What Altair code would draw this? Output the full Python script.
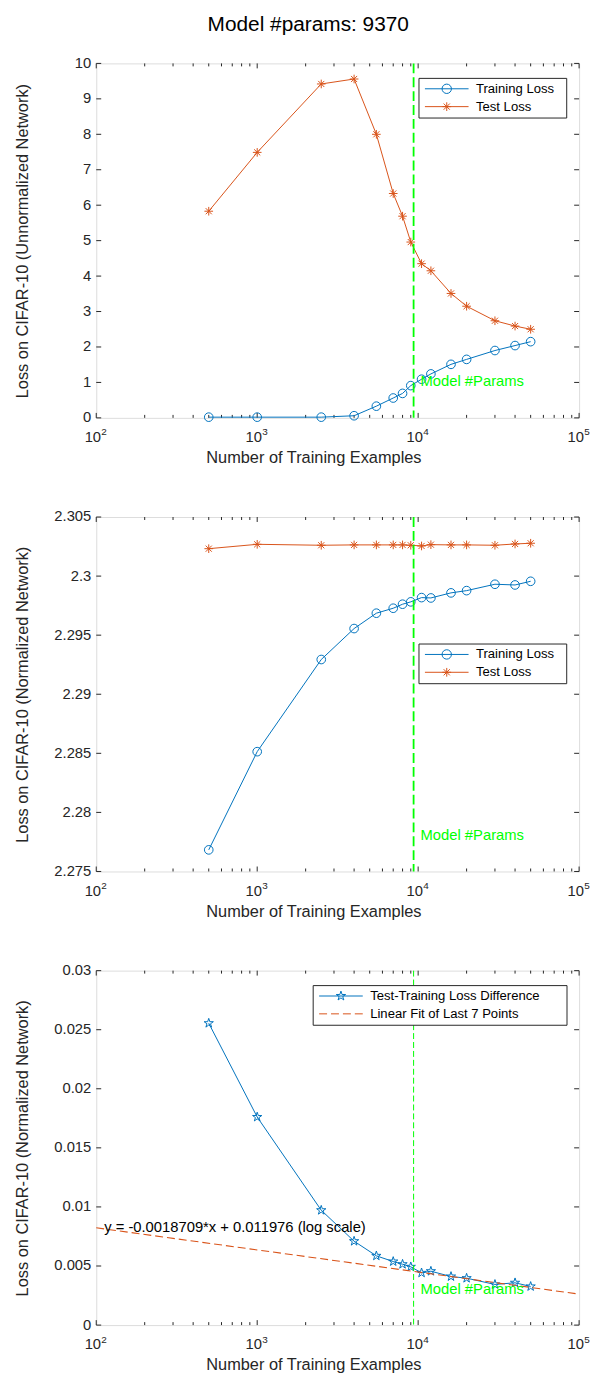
import math
import altair as alt
import pandas as pd

# ---------------- data ----------------
TITLE = "Model #params: 9370"
MODEL_PARAMS = 9370
MODEL_LABEL = "Model #Params"
X_LABEL = "Number of Training Examples"

N_EXAMPLES = [500, 1000, 2500, 4000, 5500, 7000, 8000, 9000, 10500, 12000, 16000, 20000, 30000, 40000, 50000]

UNNORM_TRAIN = [0.02, 0.02, 0.02, 0.06, 0.33, 0.56, 0.69, 0.91, 1.09, 1.24, 1.51, 1.65, 1.90, 2.04, 2.15]
UNNORM_TEST = [5.83, 7.49, 9.42, 9.56, 8.00, 6.33, 5.69, 4.96, 4.35, 4.15, 3.51, 3.15, 2.74, 2.59, 2.50]

NORM_TRAIN = [2.27683, 2.28514, 2.29294, 2.29556, 2.29686, 2.29728, 2.29762, 2.29782,
              2.29818, 2.29815, 2.29858, 2.29877, 2.29931, 2.29925, 2.29956]
NORM_TEST = [2.30232, 2.30269, 2.30261, 2.30264, 2.30264, 2.30264, 2.30264, 2.30261,
             2.30255, 2.30266, 2.30264, 2.30264, 2.30261, 2.30272, 2.30278]

DIFF = [0.02555, 0.01761, 0.00972, 0.00710, 0.00586, 0.00538, 0.00515, 0.00493,
        0.00442, 0.00456, 0.00411, 0.00397, 0.00344, 0.00358, 0.00327]

FIT_SLOPE = -0.0018709
FIT_INTERCEPT = 0.011976
FIT_X = [100, 100000]
EQ_TEXT = "y = -0.0018709*x + 0.011976 (log scale)"

SERIES_TOP = ["Training Loss", "Test Loss"]
SERIES_BOT = ["Test-Training Loss Difference", "Linear Fit of Last 7 Points"]

Y_LABELS = ["Loss on CIFAR-10 (Unnormalized Network)",
            "Loss on CIFAR-10 (Normalized Network)",
            "Loss on CIFAR-10 (Normalized Network)"]
Y_DOMAINS = [[0, 10], [2.275, 2.305], [0, 0.03]]
Y_TICKS = [[0, 1, 2, 3, 4, 5, 6, 7, 8, 9, 10],
           [2.275, 2.28, 2.285, 2.29, 2.295, 2.3, 2.305],
           [0, 0.005, 0.01, 0.015, 0.02, 0.025, 0.03]]
MODEL_LABEL_Y = [1.0, 2.278, 0.003]

X_DOMAIN = [100, 100000]
X_MAJOR = [100, 1000, 10000, 100000]
X_EXPONENTS = ["2", "3", "4", "5"]
X_MINOR = [m * 10 ** e for e in (2, 3, 4) for m in range(2, 10)]

# ---------------- style ----------------
FONT = "Liberation Sans"
AX = "#262626"
BLUE = "#0072BD"
ORANGE = "#D95319"
GREEN = "#00FF00"
W, H = 487, 357.5
TICK_MAJOR, TICK_MINOR = 5, 3
TICK_FS, LABEL_FS, LEGEND_FS, TITLE_FS = 14.9, 16.5, 13.2, 21


def spokes(a):
    d = 0.7071 * a
    return (f"M{-a},0L{a},0M0,{-a}L0,{a}"
            f"M{-d},{-d}L{d},{d}M{-d},{d}L{d},{-d}")


def star(r_out):
    r_in = 0.382 * r_out
    pts = []
    for k in range(10):
        ang = math.radians(-90 + 36 * k)
        r = r_out if k % 2 == 0 else r_in
        pts.append((r * math.cos(ang), r * math.sin(ang)))
    return "M" + "L".join(f"{x:.4f},{y:.4f}" for x, y in pts) + "Z"


def circle(r):
    return f"M{r},0A{r},{r} 0 1 1 {-r},0A{r},{r} 0 1 1 {r},0"


LINE = "M-1,0L1,0"
ASTERISK = spokes(1)
STAR = star(1)
LEG_CIRCLE = LINE + circle(0.215)
LEG_AST = LINE + spokes(0.2)
LEG_STAR = LINE + star(0.225)
LEG_DASH = "M-1,0L-0.636,0M-0.455,0L-0.091,0M0.091,0L0.455,0M0.636,0L1,0"

X_AXIS = alt.Axis(labels=False, ticks=False, tickSize=0, domain=False, grid=False,
                  title=X_LABEL, titleFont=FONT, titleFontSize=LABEL_FS,
                  titleFontWeight="normal", titleColor=AX, titlePadding=32,
                  titleX=219, titleAlign="center")


def y_axis(i):
    return alt.Axis(values=Y_TICKS[i], format="~r", ticks=False, tickSize=0, domain=False,
                    grid=False, labelPadding=5.5, labelFont=FONT, labelFontSize=TICK_FS,
                    labelColor=AX, labelOverlap=False, labelBound=False, labelFlush=False,
                    title=Y_LABELS[i], titleFont=FONT, titleFontSize=LABEL_FS,
                    titleFontWeight="normal", titleColor=AX, titleX=-74, titleY=H / 2,
                    titleAngle=270, titleAlign="center", titleBaseline="middle")


def X():
    return alt.X("x:Q", scale=alt.Scale(type="log", domain=X_DOMAIN, nice=False), axis=X_AXIS)


def Y(i):
    return alt.Y("y:Q", scale=alt.Scale(domain=Y_DOMAINS[i], nice=False, zero=False),
                 axis=y_axis(i))


def frame_layers(i):
    xmaj = pd.DataFrame({"x": X_MAJOR, "e": X_EXPONENTS})
    xmin = pd.DataFrame({"x": X_MINOR})
    yt = pd.DataFrame({"y": Y_TICKS[i]})
    layers = []
    for df, L in ((xmaj, TICK_MAJOR), (xmin, TICK_MINOR)):
        layers.append(alt.Chart(df).mark_rule(color=AX, strokeWidth=1).encode(
            x=X(), y=alt.value(H), y2=alt.value(H - L)))
        layers.append(alt.Chart(df).mark_rule(color=AX, strokeWidth=1).encode(
            x=X(), y=alt.value(0), y2=alt.value(L)))
    layers.append(alt.Chart(yt).mark_rule(color=AX, strokeWidth=1).encode(
        y=Y(i), x=alt.value(0), x2=alt.value(TICK_MAJOR)))
    layers.append(alt.Chart(yt).mark_rule(color=AX, strokeWidth=1).encode(
        y=Y(i), x=alt.value(W), x2=alt.value(W - TICK_MAJOR)))
    # x tick labels 10^n
    layers.append(alt.Chart(xmaj).mark_text(text="10", font=FONT, fontSize=TICK_FS, color=AX,
                                            align="center", baseline="alphabetic", dx=-3.4).encode(
        x=X(), y=alt.value(H + 24.4)))
    layers.append(alt.Chart(xmaj).mark_text(font=FONT, fontSize=10, color=AX,
                                            align="center", baseline="alphabetic", dx=7.9).encode(
        x=X(), y=alt.value(H + 17.7), text="e:N"))
    return layers


def model_layers(i, dash, width):
    rule = alt.Chart(pd.DataFrame({"x": [MODEL_PARAMS]})).mark_rule(
        color=GREEN, strokeDash=dash, strokeWidth=width).encode(x=X())
    txt = alt.Chart(pd.DataFrame({"x": [MODEL_PARAMS], "y": [MODEL_LABEL_Y[i]], "t": [MODEL_LABEL]})
                    ).mark_text(font=FONT, fontSize=TICK_FS, color=GREEN, align="left",
                                baseline="middle", dx=7).encode(x=X(), y=Y(i), text="t:N")
    return [rule, txt]


def legend_layer(i, series, colors, paths, lx, ly, right_pad):
    leg = alt.Legend(title="\u00a0", titleOrient="right", titlePadding=right_pad, titleFontSize=1,
                     orient="none", legendX=lx, legendY=ly, symbolSize=1936,
                     symbolStrokeWidth=1, symbolOffset=3, labelOffset=7, clipHeight=16,
                     rowPadding=2, padding=3, labelFont=FONT, labelFontSize=LEGEND_FS,
                     labelColor="#000000", fillColor="white", strokeColor=AX, labelLimit=400)
    df = pd.DataFrame({"x": [1.0], "y": [0.0], "series": [series[0]]})
    return alt.Chart(df).transform_filter("datum.x < 0").mark_point(
        filled=False, size=1936, strokeWidth=1, opacity=1).encode(
        x=X(), y=Y(i),
        color=alt.Color("series:N", scale=alt.Scale(domain=series, range=colors), legend=leg),
        shape=alt.Shape("series:N", scale=alt.Scale(domain=series, range=paths), legend=leg))


def two_series_panel(i, train, test, lx, ly):
    df = pd.DataFrame({
        "x": N_EXAMPLES + N_EXAMPLES,
        "y": train + test,
        "series": [SERIES_TOP[0]] * len(N_EXAMPLES) + [SERIES_TOP[1]] * len(N_EXAMPLES),
    })
    cscale = alt.Scale(domain=SERIES_TOP, range=[BLUE, ORANGE])
    lines = alt.Chart(df).mark_line(strokeWidth=1).encode(
        x=X(), y=Y(i), color=alt.Color("series:N", scale=cscale, legend=None))
    pts = alt.Chart(df).mark_point(filled=False, strokeWidth=1, opacity=1, size=76).encode(
        x=X(), y=Y(i), color=alt.Color("series:N", scale=cscale, legend=None),
        shape=alt.Shape("series:N", scale=alt.Scale(domain=SERIES_TOP, range=["circle", ASTERISK]),
                        legend=None))
    layers = frame_layers(i) + [lines, pts] + model_layers(i, [10, 4], 1.8) + [
        legend_layer(i, SERIES_TOP, [BLUE, ORANGE], [LEG_CIRCLE, LEG_AST], lx, ly, 9)]
    return alt.layer(*layers).resolve_scale(color="independent", shape="independent").properties(
        width=W, height=H)


p1 = two_series_panel(0, UNNORM_TRAIN, UNNORM_TEST, 325, 14.6)
p2 = two_series_panel(1, NORM_TRAIN, NORM_TEST, 325, 127.6)

# bottom panel
diff_df = pd.DataFrame({"x": N_EXAMPLES, "y": DIFF})
fit_df = pd.DataFrame({"x": FIT_X, "y": [FIT_SLOPE * math.log10(v) + FIT_INTERCEPT for v in FIT_X]})
eq_df = pd.DataFrame({"x": [FIT_X[0]], "y": [FIT_SLOPE * math.log10(FIT_X[0]) + FIT_INTERCEPT],
                      "t": [EQ_TEXT]})
diff_line = alt.Chart(diff_df).mark_line(color=BLUE, strokeWidth=1).encode(x=X(), y=Y(2))
diff_pts = alt.Chart(diff_df).mark_point(shape=STAR, color=BLUE, filled=False, size=96,
                                         strokeWidth=1, opacity=1).encode(x=X(), y=Y(2))
fit_line = alt.Chart(fit_df).mark_line(color=ORANGE, strokeWidth=1.1, strokeDash=[8, 4]).encode(
    x=X(), y=Y(2))
eq_txt = alt.Chart(eq_df).mark_text(font=FONT, fontSize=TICK_FS, color="#000000", align="left",
                                    baseline="middle", dx=8).encode(x=X(), y=Y(2), text="t:N")
p3 = alt.layer(*(frame_layers(2) + [diff_line, diff_pts, fit_line, eq_txt] +
                 model_layers(2, [6, 3], 1) +
                 [legend_layer(2, SERIES_BOT, [BLUE, ORANGE], [LEG_STAR, LEG_DASH], 218.3, 14.6, 24)])
               ).resolve_scale(color="independent", shape="independent").properties(width=W, height=H)

chart = alt.vconcat(p1, p2, p3, spacing=99.5, bounds="flush").resolve_scale(
    color="independent", shape="independent").properties(
    title=alt.TitleParams(TITLE, font=FONT, fontSize=TITLE_FS, fontWeight="normal", color="#000000",
                          anchor="middle", offset=20, dx=6),
    padding={"left": 6, "top": 0, "right": 0, "bottom": 0},
).configure_view(stroke=AX, strokeWidth=1).configure(font=FONT)

chart.save("out.html", embed_options={"renderer": "svg", "actions": False})
